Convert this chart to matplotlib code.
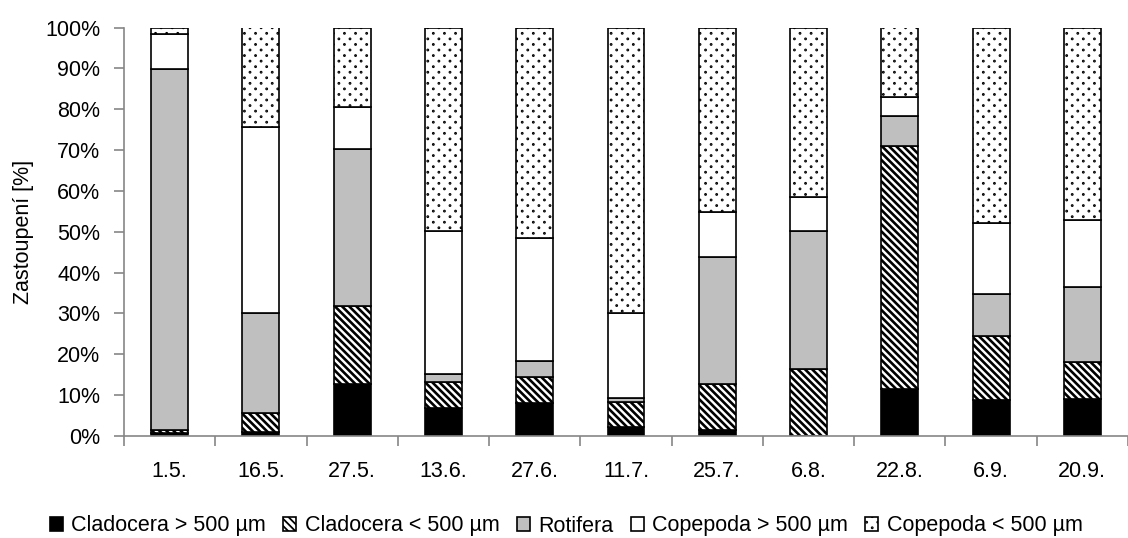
import numpy as np
import matplotlib
matplotlib.use("Agg")
import matplotlib.pyplot as plt
import matplotlib.hatch as mhatch
from matplotlib.path import Path

dates = ["1.5.", "16.5.", "27.5.", "13.6.", "27.6.", "11.7.", "25.7.", "6.8.", "22.8.", "6.9.", "20.9."]

clad_big = [0.8, 1.1, 12.7, 6.8, 8.2, 2.3, 1.5, 0.0, 11.5, 8.8, 9.1]
clad_small = [0.7, 4.5, 19.2, 6.5, 6.3, 6.1, 11.2, 16.4, 59.4, 15.8, 8.9]
rotifera = [88.4, 24.4, 38.4, 1.9, 3.9, 1.0, 31.0, 33.9, 7.5, 10.2, 18.4]
cope_big = [8.5, 45.7, 10.3, 35.0, 30.1, 20.6, 11.2, 8.1, 4.7, 17.3, 16.5]
cope_small = [1.6, 24.3, 19.4, 49.8, 51.5, 70.0, 45.1, 41.6, 16.9, 47.9, 47.1]

labels = ["Cladocera > 500 µm", "Cladocera < 500 µm", "Rotifera",
          "Copepoda > 500 µm", "Copepoda < 500 µm"]


# hatch patterns closer to the Excel ones: wide stripes and a staggered dot grid
class StripeHatch(mhatch.SouthEastHatch):
    def __init__(self, hatch, density):
        super().__init__(hatch, 14)


class DotHatch(mhatch.HatchPatternBase):
    def __init__(self, hatch, density):
        circle = Path.unit_circle()
        self.cv = circle.vertices
        self.cc = circle.codes
        self.pts = []
        if "." in hatch:
            nx, ny = 9, 18
            for j in range(ny + 1):
                if j % 2 == 0:
                    xs = np.arange(nx + 1) / nx
                else:
                    xs = (np.arange(nx) + 0.5) / nx
                for x in xs:
                    self.pts.append((x, j / ny))
        self.num_vertices = len(self.pts) * len(self.cv)

    def set_vertices_and_codes(self, vertices, codes):
        n = len(self.cv)
        for i, (x, y) in enumerate(self.pts):
            vertices[i * n:(i + 1) * n] = self.cv * 0.005 + (x, y)
            codes[i * n:(i + 1) * n] = self.cc


types = mhatch._hatch_types
types[types.index(mhatch.SouthEastHatch)] = StripeHatch
types[types.index(mhatch.SmallFilledCircles)] = DotHatch

plt.rcParams["font.family"] = ["Liberation Sans", "DejaVu Sans"]
plt.rcParams["font.size"] = 15.5

fig = plt.figure(figsize=(11.28, 5.38), dpi=100)
ax = fig.add_axes([124 / 1128, 102 / 538, 1004 / 1128, 408.5 / 538])

x = np.arange(len(dates))
series = [clad_big, clad_small, rotifera, cope_big, cope_small]
faces = ["black", "white", "#bfbfbf", "white", "white"]
hatches = [None, "\\\\", None, None, "."]
hlw = [1.0, 1.9, 1.0, 1.0, 1.3]

bottom = np.zeros(len(dates))
for vals, fc, h, lw, lab in zip(series, faces, hatches, hlw, labels):
    plt.rcParams["hatch.linewidth"] = lw
    bars = ax.bar(x, vals, width=0.405, bottom=bottom, color=fc, edgecolor="black",
                  linewidth=1.2, hatch=h, label=lab)
    for b in bars:
        if hasattr(b, "set_hatch_linewidth"):
            b.set_hatch_linewidth(lw)
    bottom += np.array(vals)

ax.set_xlim(-0.5, len(dates) - 0.5)
ax.set_ylim(0, 100)
ax.set_yticks(range(0, 101, 10))
ax.set_yticklabels([f"{v}%" for v in range(0, 101, 10)])

ax.set_xticks(np.arange(len(dates) + 1) - 0.5)
ax.set_xticklabels([])
ax.set_xticks(x, minor=True)
ax.set_xticklabels(dates, minor=True)
ax.tick_params(axis="x", which="major", length=7, color="#868686", width=1.2)
ax.tick_params(axis="x", which="minor", length=0, pad=18)
ax.tick_params(axis="y", length=7, color="#868686", width=1.2, pad=10)

for s in ["top", "right"]:
    ax.spines[s].set_visible(False)
for s in ["left", "bottom"]:
    ax.spines[s].set_color("#868686")
    ax.spines[s].set_linewidth(1.2)

ax.set_ylabel("Zastoupení [%]", labelpad=8)

fig.legend(loc="center", bbox_to_anchor=(0.502, 12 / 538), ncol=5, frameon=False,
           handlelength=0.6, handleheight=0.6, handletextpad=0.4, columnspacing=0.8,
           borderaxespad=0)

fig.savefig("out.png", dpi=100)
